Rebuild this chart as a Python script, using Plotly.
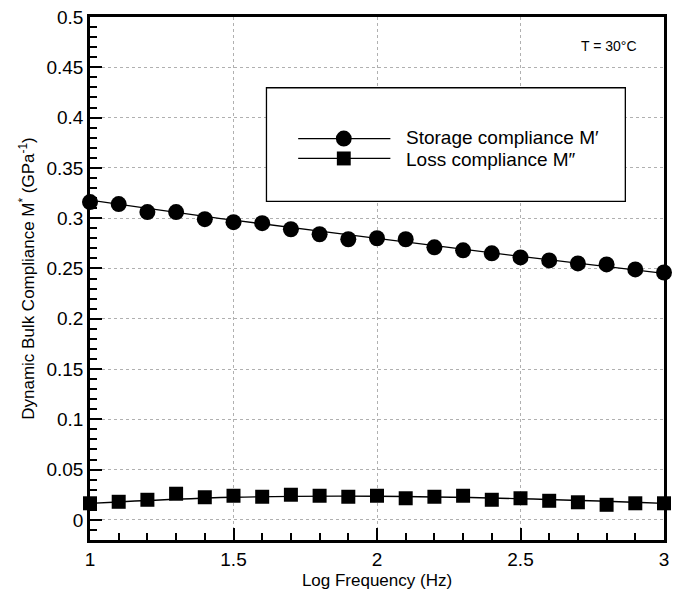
import plotly.graph_objects as go

log_freq = [1.0, 1.1, 1.2, 1.3, 1.4, 1.5, 1.6, 1.7, 1.8, 1.9, 2.0,
            2.1, 2.2, 2.3, 2.4, 2.5, 2.6, 2.7, 2.8, 2.9, 3.0]
storage = [0.316, 0.314, 0.306, 0.306, 0.299, 0.296, 0.295, 0.289, 0.284, 0.279, 0.280,
           0.279, 0.271, 0.268, 0.265, 0.261, 0.258, 0.255, 0.254, 0.249, 0.246]
loss = [0.0165, 0.018, 0.020, 0.026, 0.0225, 0.024, 0.023, 0.025, 0.024, 0.023, 0.024,
        0.0215, 0.023, 0.024, 0.020, 0.0215, 0.019, 0.0175, 0.015, 0.0165, 0.0165]

fit_x = [1.0, 1.5, 2.0, 2.5, 3.0]
storage_fit = [0.318, 0.298, 0.280, 0.262, 0.245]
loss_fit = [0.0165, 0.0225, 0.0235, 0.021, 0.0165]

font = "Liberation Sans, Arial, Helvetica, sans-serif"

fig = go.Figure()
fig.add_trace(go.Scatter(x=fit_x, y=storage_fit, mode="lines",
                         line=dict(color="black", width=1.3, shape="spline"),
                         showlegend=False, hoverinfo="skip"))
fig.add_trace(go.Scatter(x=fit_x, y=loss_fit, mode="lines",
                         line=dict(color="black", width=1.3, shape="spline"),
                         showlegend=False, hoverinfo="skip"))
fig.add_trace(go.Scatter(x=log_freq, y=storage, mode="markers",
                         marker=dict(symbol="circle", size=16, color="black"),
                         name="Storage compliance M′", showlegend=False, cliponaxis=False))
fig.add_trace(go.Scatter(x=log_freq, y=loss, mode="markers",
                         marker=dict(symbol="square", size=14, color="black"),
                         name="Loss compliance M″", showlegend=False, cliponaxis=False))

# manual legend box (paper coordinates)
W, H = 676, 598
L, R, T, B = 90, 7, 15, 58
pw, ph = W - L - R, H - T - B

def px(x):
    return (x - L) / pw

def py(y):
    return 1 - (y - T) / ph

shapes = [
    dict(type="rect", xref="paper", yref="paper", x0=px(268), x1=px(630), y0=py(200), y1=py(86),
         line=dict(color="black", width=1.3), fillcolor="white", layer="above"),
    dict(type="line", xref="paper", yref="paper", x0=px(300), x1=px(393), y0=py(137), y1=py(137),
         line=dict(color="black", width=1.3), layer="above"),
    dict(type="circle", xref="paper", yref="paper", x0=px(338), x1=px(354), y0=py(145), y1=py(129),
         line=dict(color="black", width=0), fillcolor="black", layer="above"),
    dict(type="line", xref="paper", yref="paper", x0=px(300), x1=px(393), y0=py(157), y1=py(157),
         line=dict(color="black", width=1.3), layer="above"),
    dict(type="rect", xref="paper", yref="paper", x0=px(339), x1=px(353), y0=py(164), y1=py(150),
         line=dict(color="black", width=0), fillcolor="black", layer="above"),
]

annotations = [
    dict(xref="paper", yref="paper", x=px(407), y=py(136), xanchor="left", yanchor="middle",
         text="Storage compliance M′", showarrow=False,
         font=dict(family=font, size=19, color="black")),
    dict(xref="paper", yref="paper", x=px(407), y=py(158), xanchor="left", yanchor="middle",
         text="Loss compliance M″", showarrow=False,
         font=dict(family=font, size=19, color="black")),
    dict(xref="paper", yref="paper", x=px(614), y=py(44), xanchor="center", yanchor="middle",
         text="T = 30°C", showarrow=False,
         font=dict(family=font, size=14, color="black")),
]

fig.update_layout(
    width=W, height=H,
    margin=dict(l=L, r=R, t=T, b=B),
    paper_bgcolor="white", plot_bgcolor="white",
    font=dict(family=font, size=17, color="black"),
    shapes=shapes, annotations=annotations,
    showlegend=False,
)
fig.update_xaxes(
    range=[1, 3], tickvals=[1, 1.5, 2, 2.5, 3], ticktext=["1", "1.5", "2", "2.5", "3"],
    ticks="inside", ticklen=12, tickwidth=2, tickcolor="black",
    minor=dict(dtick=0.1, ticks="inside", ticklen=7, tickwidth=1.5, tickcolor="black", showgrid=False),
    showline=True, linecolor="black", linewidth=2.5, mirror=True,
    showgrid=True, gridcolor="#b0b0b0", griddash="dot", gridwidth=1,
    zeroline=False,
    title=dict(text="Log Frequency (Hz)", font=dict(size=17), standoff=6),
    tickfont=dict(size=19),
)
fig.update_yaxes(
    range=[-0.02, 0.5], tickvals=[0, 0.05, 0.1, 0.15, 0.2, 0.25, 0.3, 0.35, 0.4, 0.45, 0.5],
    ticktext=["0", "0.05", "0.1", "0.15", "0.2", "0.25", "0.3", "0.35", "0.4", "0.45", "0.5"],
    ticks="inside", ticklen=12, tickwidth=2, tickcolor="black",
    minor=dict(dtick=0.01, tick0=0, ticks="inside", ticklen=7, tickwidth=1.5, tickcolor="black", showgrid=False),
    showline=True, linecolor="black", linewidth=2.5, mirror=True,
    showgrid=True, gridcolor="#b0b0b0", griddash="dot", gridwidth=1,
    zeroline=False,
    title=dict(text="Dynamic Bulk Compliance M<sup>*</sup> (GPa<sup>-1</sup>)", font=dict(size=17), standoff=8),
    tickfont=dict(size=19),
)

fig.write_html("out.html")
